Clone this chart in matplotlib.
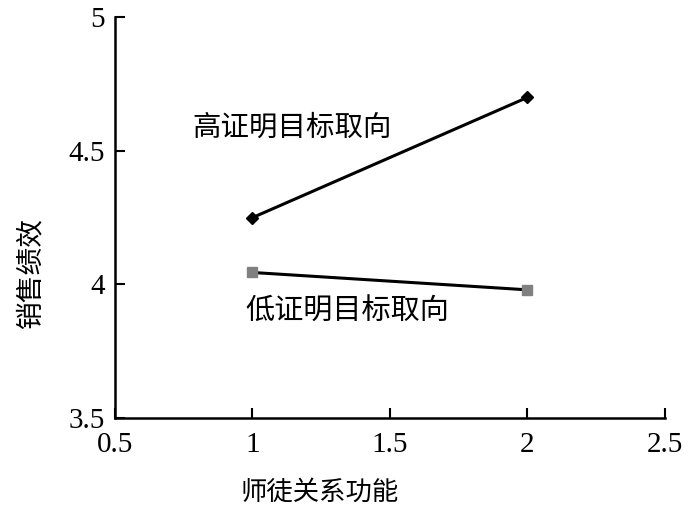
import matplotlib
matplotlib.use("Agg")
import matplotlib.pyplot as plt

# Data
x_vals = [1, 2]
high_vals = [4.25, 4.70]
low_vals = [4.045, 3.98]
high_label = "高证明目标取向"
low_label = "低证明目标取向"
x_title = "师徒关系功能"
y_title = "销售绩效"
x_ticks = [0.5, 1, 1.5, 2, 2.5]
x_tick_labels = ["0.5", "1", "1.5", "2", "2.5"]
y_ticks = [3.5, 4, 4.5, 5]
y_tick_labels = ["3.5", "4", "4.5", "5"]

cjk = ["Noto Sans CJK SC", "DejaVu Sans"]

fig = plt.figure(figsize=(7, 5.22), dpi=100)
ax = fig.add_axes([0.164, 0.199, 0.786, 0.768])

ax.plot(x_vals, high_vals, color="black", lw=2.2, marker="D", ms=6,
        mfc="black", mec="black")
ax.plot(x_vals, low_vals, color="black", lw=2.2, marker="s", ms=7,
        mfc="#808080", mec="#808080")

ax.set_xlim(0.5, 2.5)
ax.set_ylim(3.5, 5)
ax.set_xticks(x_ticks)
ax.set_xticklabels(x_tick_labels, family="Liberation Serif", fontsize=21)
ax.set_yticks(y_ticks)
ax.set_yticklabels(y_tick_labels, family="Liberation Serif", fontsize=21)
ax.tick_params(direction="in", length=7, width=1.5)
ax.tick_params(axis="x", pad=10)
ax.tick_params(axis="y", pad=7)

for s in ["top", "right"]:
    ax.spines[s].set_visible(False)
for s in ["left", "bottom"]:
    ax.spines[s].set_linewidth(1.8)

ax.text(1.144, 4.588, high_label, family=cjk, fontsize=20.5,
        ha="center", va="center")
ax.text(1.344, 3.899, low_label, family=cjk, fontsize=21,
        ha="center", va="center")

fig.text(320 / 700, 1 - 492 / 522, x_title, family=cjk, fontsize=19,
         ha="center", va="center")
fig.text(30 / 700, 1 - 272 / 522, y_title, family=cjk, fontsize=20,
         ha="center", va="center", rotation=90)

fig.savefig("out.png", dpi=100)
